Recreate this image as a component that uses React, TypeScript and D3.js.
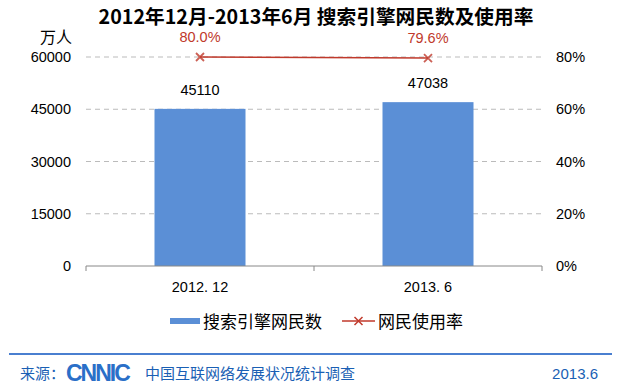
import React from "react";
import * as d3 from "d3";

const categories = ["2012. 12", "2013. 6"];
const users = [45110, 47038];
const rates = [80.0, 79.6];
const leftTicks = [0, 15000, 30000, 45000, 60000];
const rightTicks = [0, 20, 40, 60, 80];

const W = 635, H = 391;
const M = { left: 86, right: 542, top: 57, bottom: 266 };

export default function App() {
  const xc = d3.scalePoint<string>().domain(categories).range([M.left, M.right]).padding(0.5);
  const y = d3.scaleLinear().domain([0, 60000]).range([M.bottom, M.top]);
  const y2 = d3.scaleLinear().domain([0, 80]).range([M.bottom, M.top]);
  const font = "'Noto Sans CJK SC', 'Liberation Sans', Arial, sans-serif";
  const num = "'Liberation Sans', Arial, sans-serif";
  const bw = 91;
  const line = d3.line<number>().x((_, i) => xc(categories[i])!).y((d) => y2(d));
  const red = "#c0392b";
  const blue = "#5b8fd6";
  const xs = (s: number, d: number) => `M${s - 4},${d - 4}L${s + 4},${d + 4}M${s - 4},${d + 4}L${s + 4},${d - 4}`;
  return (
    <svg width={W} height={H} style={{ position: "absolute", left: 0, top: 0, background: "#fff" }} fontFamily={font}>
      <text x={316} y={24} textAnchor="middle" fontSize={19.7} fontWeight="bold" fill="#000">2012年12月-2013年6月 搜索引擎网民数及使用率</text>
      <text x={56} y={43} textAnchor="middle" fontSize={16} fill="#000">万人</text>
      {leftTicks.map((t) => (
        <g key={t}>
          {t > 0 && <line x1={M.left} x2={M.right} y1={y(t)} y2={y(t)} stroke="#bbb" strokeDasharray="5,4" />}
          <text x={71} y={y(t) + 5} textAnchor="end" fontSize={14.5} fontFamily={num} fill="#000">{t}</text>
        </g>
      ))}
      {rightTicks.map((t) => (
        <text key={t} x={556} y={y2(t) + 5} fontSize={14.5} fontFamily={num} fill="#000">{t}%</text>
      ))}
      {categories.map((c, i) => (
        <g key={c}>
          <rect x={xc(c)! - bw / 2} y={y(users[i])} width={bw} height={M.bottom - y(users[i])} fill={blue} />
          <text x={xc(c)} y={y(users[i]) - 14} textAnchor="middle" fontSize={14.5} fontFamily={num} fill="#000">{users[i]}</text>
          <text x={xc(c)} y={292} textAnchor="middle" fontSize={14.5} fontFamily={num} fill="#000">{c}</text>
        </g>
      ))}
      <path d={`M${M.left},${M.bottom + 5}V${M.bottom}H${M.right}V${M.bottom + 5}M${(M.left + M.right) / 2},${M.bottom}V${M.bottom + 5}`} fill="none" stroke="#888" />
      <path d={line(rates)!} fill="none" stroke={red} strokeWidth={1.5} />
      {rates.map((r, i) => (
        <g key={i}>
          <path d={xs(xc(categories[i])!, y2(r))} stroke={red} strokeWidth={1.8} opacity={0.8} />
          <text x={xc(categories[i])} y={y2(r) - 15} textAnchor="middle" fontSize={14.5} fontFamily={num} fill={red}>{r.toFixed(1)}%</text>
        </g>
      ))}
      <rect x={170} y={318} width={30} height={6} fill={blue} />
      <text x={203} y={328} fontSize={17} fill="#000">搜索引擎网民数</text>
      <line x1={342} x2={375} y1={321} y2={321} stroke={red} strokeWidth={1.5} />
      <path d={xs(358.5, 321)} stroke={red} strokeWidth={1.5} />
      <text x={378} y={328} fontSize={17} fill="#000">网民使用率</text>
      <line x1={9} x2={612} y1={354} y2={354} stroke="#4a7fd0" strokeWidth={2} />
      <text x={20} y={379} fontSize={15} fill="#1a5fb4">来源：</text>
      <text x={66} y={381} fontSize={23} fontWeight="bold" fill="#2a6fc8" letterSpacing={-2} fontFamily={num}>CNNIC</text>
      <text x={145} y={379} fontSize={15} fill="#1a5fb4">中国互联网络发展状况统计调查</text>
      <text x={598} y={379} textAnchor="end" fontSize={15} fill="#1a5fb4" fontFamily={num}>2013.6</text>
    </svg>
  );
}
